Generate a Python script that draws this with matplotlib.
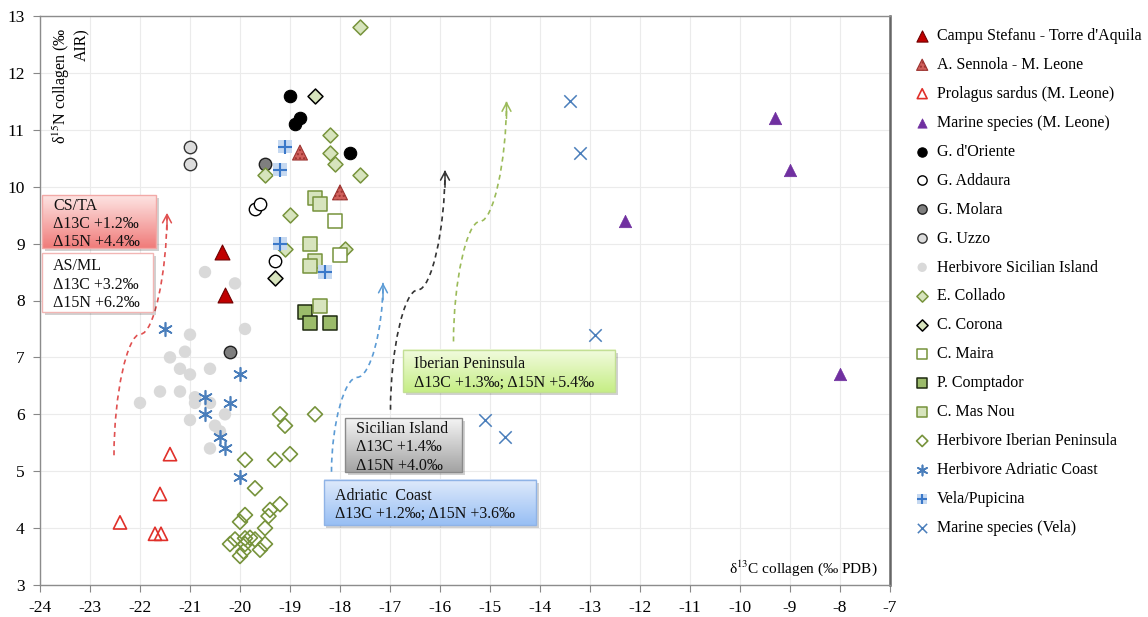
import numpy as np
import matplotlib
matplotlib.use('Agg')
import matplotlib.pyplot as plt
from matplotlib.path import Path
from matplotlib.patches import PathPatch, Rectangle
from matplotlib.colors import LinearSegmentedColormap

plt.rcParams['font.family'] = ['Liberation Serif', 'DejaVu Serif']
plt.rcParams['mathtext.fontset'] = 'stix'
plt.rcParams['axes.unicode_minus'] = False

# ---- data (d13C, d15N) ----
cs_ta_x = [-20.35, -20.3]
cs_ta_y = [8.85, 8.1]
sennola_x = [-18.8, -18.0]
sennola_y = [10.6, 9.9]
prolagus_x = [-21.4, -21.6, -22.4, -21.7, -21.58]
prolagus_y = [5.3, 4.6, 4.1, 3.9, 3.9]
marine_leone_x = [-9.3, -9.0, -12.3, -8.0]
marine_leone_y = [11.2, 10.3, 9.4, 6.7]
oriente_x = [-19.0, -18.9, -18.8, -17.8]
oriente_y = [11.6, 11.1, 11.2, 10.6]
addaura_x = [-19.7, -19.6, -19.3]
addaura_y = [9.6, 9.7, 8.7]
molara_x = [-19.5, -20.2]
molara_y = [10.4, 7.1]
uzzo_x = [-21.0, -21.0]
uzzo_y = [10.7, 10.4]
herb_sic_x = [-20.7, -20.1, -19.9, -21.0, -21.1, -21.4, -21.2, -21.0, -20.6, -21.6,
              -21.2, -20.9, -20.9, -20.6, -22.0, -20.3, -21.0, -20.5, -20.4, -20.6]
herb_sic_y = [8.5, 8.3, 7.5, 7.4, 7.1, 7.0, 6.8, 6.7, 6.8, 6.4,
              6.4, 6.3, 6.2, 6.2, 6.2, 6.0, 5.9, 5.8, 5.7, 5.4]
collado_x = [-17.6, -18.2, -18.2, -18.1, -17.6, -19.5, -19.0, -19.1, -17.9]
collado_y = [12.8, 10.9, 10.6, 10.4, 10.2, 10.2, 9.5, 8.9, 8.9]
corona_x = [-18.5, -19.3]
corona_y = [11.6, 8.4]
maira_x = [-18.1, -18.0]
maira_y = [9.4, 8.8]
comptador_x = [-18.7, -18.6, -18.2]
comptador_y = [7.8, 7.6, 7.6]
masnou_x = [-18.5, -18.4, -18.6, -18.5, -18.6, -18.4]
masnou_y = [9.8, 9.7, 9.0, 8.7, 8.6, 7.9]
herb_ib_x = [-19.2, -18.5, -19.1, -19.9, -19.3, -19.0, -19.7, -19.2, -19.4, -19.43,
             -19.9, -20.0, -19.5, -20.1, -20.2, -19.9, -19.8, -19.7, -19.9, -19.6,
             -19.5, -20.0, -19.93]
herb_ib_y = [6.0, 6.0, 5.8, 5.2, 5.2, 5.3, 4.7, 4.42, 4.32, 4.21,
             4.23, 4.11, 4.0, 3.8, 3.72, 3.82, 3.83, 3.8, 3.72, 3.62,
             3.72, 3.51, 3.59]
herb_adr_x = [-21.5, -20.0, -20.7, -20.2, -20.7, -20.4, -20.3, -20.0]
herb_adr_y = [7.5, 6.7, 6.3, 6.2, 6.0, 5.6, 5.4, 4.9]
vela_pup_x = [-19.1, -19.2, -19.2, -18.3]
vela_pup_y = [10.7, 10.3, 9.0, 8.5]
marine_vela_x = [-13.4, -13.2, -12.9, -15.1, -14.7]
marine_vela_y = [11.5, 10.6, 7.4, 5.9, 5.6]

# arrows: (start, end) in data units
arrow_red = ((-22.52, 5.28), (-21.46, 9.54))
arrow_blue = ((-18.17, 4.99), (-17.14, 8.31))
arrow_black = ((-16.99, 6.08), (-15.9, 10.29))
arrow_green = ((-15.73, 7.28), (-14.67, 11.5))

x_ticks = list(range(-24, -6))
y_ticks = list(range(3, 14))

fig = plt.figure(figsize=(11.48, 6.17), dpi=100)
ax = fig.add_axes([40 / 1148, 32 / 617, 850 / 1148, 569 / 617])

green_edge = '#77933c'
green_fill = '#d7e4bd'
blue = '#4a7ebb'

handles = []
labels = []

def add(label, x, y, **kw):
    h = ax.scatter(x, y, zorder=3, **kw)
    handles.append(h)
    labels.append(label)
    return h

add('Campu Stefanu - Torre d\'Aquila', cs_ta_x, cs_ta_y, marker='^', s=115,
    facecolor='#c00000', edgecolor='#700000', linewidths=0.8)
add('A. Sennola - M. Leone', sennola_x, sennola_y, marker='^', s=115,
    facecolor='#d0605c', edgecolor='#9c3330', linewidths=0.8, hatch='....')
add('Prolagus sardus (M. Leone)', prolagus_x, prolagus_y, marker='^', s=90,
    facecolor='none', edgecolor='#e0302a', linewidths=1.2)
add('Marine species (M. Leone)', marine_leone_x, marine_leone_y, marker='^', s=80,
    facecolor='#7030a0', edgecolor='#7030a0', linewidths=0.5)
add('G. d\'Oriente', oriente_x, oriente_y, marker='o', s=80,
    facecolor='black', edgecolor='black', linewidths=0.8)
add('G. Addaura', addaura_x, addaura_y, marker='o', s=80,
    facecolor='white', edgecolor='black', linewidths=1.0)
add('G. Molara', molara_x, molara_y, marker='o', s=80,
    facecolor='#7f7f7f', edgecolor='#202020', linewidths=1.0)
add('G. Uzzo', uzzo_x, uzzo_y, marker='o', s=80,
    facecolor='#dcdcdc', edgecolor='#333333', linewidths=1.0)
add('Herbivore Sicilian Island', herb_sic_x, herb_sic_y, marker='o', s=80,
    facecolor='#d9d9d9', edgecolor='none')
add('E. Collado', collado_x, collado_y, marker='D', s=58,
    facecolor=green_fill, edgecolor=green_edge, linewidths=1.1)
add('C. Corona', corona_x, corona_y, marker='D', s=58,
    facecolor=green_fill, edgecolor='black', linewidths=1.1)
add('C. Maira', maira_x, maira_y, marker='s', s=95,
    facecolor='white', edgecolor=green_edge, linewidths=1.1)
add('P. Comptador', comptador_x, comptador_y, marker='s', s=95,
    facecolor='#9bbb6a', edgecolor='#1e2a10', linewidths=1.1)
add('C. Mas Nou', masnou_x, masnou_y, marker='s', s=95,
    facecolor=green_fill, edgecolor=green_edge, linewidths=1.1)
add('Herbivore Iberian Peninsula', herb_ib_x, herb_ib_y, marker='D', s=58,
    facecolor='none', edgecolor=green_edge, linewidths=1.2)
add('Herbivore Adriatic Coast', herb_adr_x, herb_adr_y, marker=(6, 2, 0), s=95,
    color=blue, linewidths=1.2)
sq = ax.scatter(vela_pup_x, vela_pup_y, marker='s', s=90, facecolor='#c6d9f1',
                edgecolor='none', zorder=3)
pl = ax.scatter(vela_pup_x, vela_pup_y, marker='+', s=90, color='#3a78c9',
                linewidths=1.5, zorder=3)
handles.append((sq, pl))
labels.append('Vela/Pupicina')
add('Marine species (Vela)', marine_vela_x, marine_vela_y, marker='x', s=80,
    color=blue, linewidths=1.1)

# dashed curved connectors with open arrow heads
def connector(ax, start, end, color):
    (x0, y0), (x1, y1) = start, end
    xm, ym = (x0 + x1) / 2, (y0 + y1) / 2
    verts = [(x0, y0), (x0, (y0 + ym) / 2), ((x0 + xm) / 2, ym), (xm, ym),
             ((xm + x1) / 2, ym), (x1, (ym + y1) / 2), (x1, y1)]
    codes = [Path.MOVETO] + [Path.CURVE4] * 6
    ax.add_patch(PathPatch(Path(verts, codes), fc='none', ec=color, lw=1.2,
                           ls=(0, (3, 2.5)), zorder=4))
    ax.annotate('', xy=(x1, y1), xytext=(x1, y1 - 0.3),
                arrowprops=dict(arrowstyle='->,head_length=0.6,head_width=0.32',
                                color=color, lw=1.1, shrinkA=0, shrinkB=0),
                zorder=4)

connector(ax, *arrow_red, '#e05050')
connector(ax, *arrow_blue, '#5b9bd5')
connector(ax, *arrow_black, '#333333')
connector(ax, *arrow_green, '#9bbb59')

# annotation boxes (axes fractions)
def gradient_box(x0, y0, x1, y1, c_top, c_bot, edge, text):
    ax.add_patch(Rectangle((x0 + 0.003, y0 - 0.005), x1 - x0, y1 - y0,
                           transform=ax.transAxes, fc='#000000', alpha=0.18,
                           ec='none', zorder=5))
    cmap = LinearSegmentedColormap.from_list('g', [c_bot, c_top])
    grad = np.linspace(0, 1, 64).reshape(-1, 1)
    ax.imshow(grad, cmap=cmap, extent=(x0, x1, y0, y1), transform=ax.transAxes,
              origin='lower', aspect='auto', zorder=6, interpolation='bilinear')
    ax.add_patch(Rectangle((x0, y0), x1 - x0, y1 - y0, transform=ax.transAxes,
                           fc='none', ec=edge, lw=1.0, zorder=7))
    ax.text(x0 + 0.013, (y0 + y1) / 2 - 0.004, text, transform=ax.transAxes, ha='left',
            va='center', fontsize=11.5, linespacing=1.2, zorder=8, color='#111111')

gradient_box(0.0024, 0.592, 0.1365, 0.685, '#fde4e3', '#f07c7a', '#f2a9a7',
             'CS/TA\nΔ13C +1.2‰\nΔ15N +4.4‰')
gradient_box(0.0024, 0.480, 0.133, 0.583, '#ffffff', '#ffffff', '#f2b6b4',
             'AS/ML\nΔ13C +3.2‰\nΔ15N +6.2‰')
gradient_box(0.427, 0.339, 0.6765, 0.413, '#f2fbdf', '#c6ee86', '#c3df95',
             'Iberian Peninsula\nΔ13C +1.3‰; Δ15N +5.4‰')
gradient_box(0.3588, 0.1986, 0.4965, 0.2935, '#f4f4f4', '#a3a3a3', '#8a8a8a',
             'Sicilian Island\nΔ13C +1.4‰\nΔ15N +4.0‰')
gradient_box(0.334, 0.1054, 0.5835, 0.1845, '#dfeafb', '#98bff4', '#8fb3e6',
             'Adriatic  Coast\nΔ13C +1.2‰; Δ15N +3.6‰')

# axis titles inside the plot
ax.text(0.012, 0.979, 'δ$^{15}$N collagen (‰\nAIR)', transform=ax.transAxes,
        rotation=90, ha='left', va='top', multialignment='right', fontsize=11.5)
ax.text(0.985, 0.012, 'δ$^{13}$C collagen (‰ PDB)', transform=ax.transAxes,
        ha='right', va='bottom', fontsize=11)

ax.set_xlim(-24, -7)
ax.set_ylim(3, 13)
ax.set_xticks(x_ticks)
ax.set_yticks(y_ticks)
ax.set_xticklabels([str(t) for t in x_ticks])
ax.grid(True, color='#ebebeb', lw=0.8, zorder=0)
ax.set_axisbelow(True)
ax.tick_params(axis='both', direction='out', length=5, color='#888888',
               labelsize=12.5, pad=6)
for side in ['left', 'bottom', 'top']:
    ax.spines[side].set_color('#8c8c8c')
    ax.spines[side].set_linewidth(1.0)
ax.spines['right'].set_color('#666666')
ax.spines['right'].set_linewidth(1.8)

fig.legend(handles, labels, loc='upper left', bbox_to_anchor=(915 / 1148, 1 - 28 / 617),
           frameon=False, fontsize=11.5, markerscale=0.75, handlelength=0.9,
           handletextpad=0.45, labelspacing=0.81, borderaxespad=0, borderpad=0)

fig.savefig('out.png', dpi=100)
